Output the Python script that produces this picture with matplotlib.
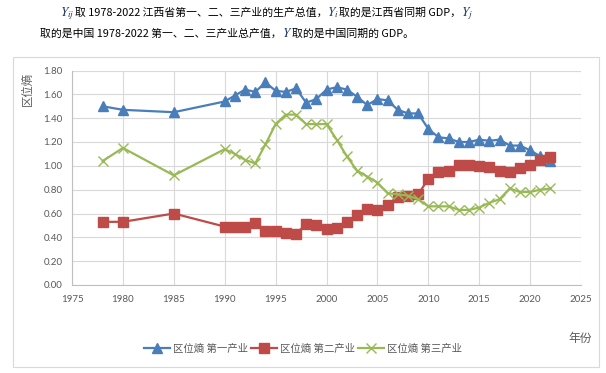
import numpy as np
import matplotlib
matplotlib.use("Agg")
import matplotlib.pyplot as plt

plt.rcParams['font.family'] = ['Noto Sans CJK SC', 'DejaVu Sans']
plt.rcParams['mathtext.fontset'] = 'stix'

# data
years = [1978, 1980, 1985] + list(range(1990, 2023))
primary = [1.50, 1.47, 1.45,
           1.54, 1.59, 1.64, 1.62, 1.70, 1.63, 1.62, 1.65, 1.53, 1.56,
           1.64, 1.66, 1.64, 1.58, 1.51, 1.56, 1.55, 1.47, 1.44, 1.44,
           1.31, 1.24, 1.23, 1.20, 1.20, 1.22, 1.21, 1.22, 1.17, 1.17,
           1.13, 1.08, 1.04]
secondary = [0.53, 0.53, 0.60,
             0.49, 0.49, 0.49, 0.52, 0.45, 0.45, 0.44, 0.43, 0.51, 0.50,
             0.47, 0.48, 0.53, 0.59, 0.64, 0.63, 0.675, 0.74, 0.75, 0.76,
             0.89, 0.95, 0.96, 1.01, 1.01, 1.00, 0.99, 0.96, 0.95, 0.98,
             1.01, 1.05, 1.07]
tertiary = [1.04, 1.15, 0.92,
            1.14, 1.10, 1.05, 1.02, 1.18, 1.35, 1.43, 1.43, 1.35, 1.35,
            1.35, 1.22, 1.08, 0.96, 0.91, 0.86, 0.77, 0.76, 0.75, 0.72,
            0.66, 0.66, 0.66, 0.63, 0.63, 0.65, 0.69, 0.72, 0.81, 0.78,
            0.78, 0.80, 0.81]
labels = ['区位熵 第一产业', '区位熵 第二产业', '区位熵 第三产业']

W, H = 606, 373
fig = plt.figure(figsize=(W / 100, H / 100), dpi=100)

# chart frame
fig.patches.append(plt.Rectangle((12.5 / W, 6 / H), 586.5 / W, 310 / H,
                                 transform=fig.transFigure, fill=False,
                                 edgecolor='#d9d9d9', linewidth=0.8))

ax = fig.add_axes([72 / W, 88 / H, 509 / W, 214.5 / H])
ax.plot(years, primary, color='#4a7ebb', lw=1.6, marker='^', ms=7.5,
        label=labels[0])
ax.plot(years, secondary, color='#be4b48', lw=1.6, marker='s', ms=6.5,
        label=labels[1])
ax.plot(years, tertiary, color='#98b954', lw=1.6, marker='x', ms=6.5,
        mew=1.0, label=labels[2])

ax.set_xlim(1975, 2025)
ax.set_ylim(0, 1.8)
ax.set_xticks(np.arange(1975, 2026, 5))
ax.set_yticks(np.arange(0, 1.81, 0.2))
ax.set_yticklabels(['%.2f' % v for v in np.arange(0, 1.81, 0.2)])
ax.grid(True, color='#d9d9d9', lw=0.8)
ax.set_axisbelow(True)
for s in ['top', 'right']:
    ax.spines[s].set_visible(False)
for s in ['left', 'bottom']:
    ax.spines[s].set_color('#bfbfbf')
    ax.spines[s].set_linewidth(0.8)
ax.tick_params(length=0, labelsize=7, labelcolor='#595959', pad=7)
for t in ax.get_xticklabels() + ax.get_yticklabels():
    t.set_family(['Lato', 'DejaVu Sans'])

fig.text(27 / W, 1 - 89 / H, '区位熵', rotation='vertical', ha='center',
         va='center', fontsize=8.2, color='#595959')
fig.text(580 / W, 1 - 338 / H, '年份', ha='center', va='center',
         fontsize=8.5, color='#595959')

fig.legend(loc='center', bbox_to_anchor=(303 / W, 1 - 349 / H),
           ncol=3, frameon=False, fontsize=7.5, labelcolor='#595959',
           handlelength=2.5, handletextpad=0.3, columnspacing=0.3)

# description text above the chart
navy = '#1f3864'


def write_line(pieces, x, y):
    last = None
    for s, c in pieces:
        size = 9.5 if s.startswith('$') else 7.8
        if last is None:
            last = fig.text(x / W, y / H, s, color=c, fontsize=size,
                            va='baseline', ha='left')
        else:
            last = ax.annotate(s, xy=(1, y), xycoords=(last, 'figure pixels'),
                               color=c, fontsize=size, va='baseline',
                               ha='left', annotation_clip=False)


write_line([('$Y_{ij}$', navy), ('取 1978-2022 江西省第一、二、三产业的生产总值，', 'black'),
            ('$Y_i$', navy), ('取的是江西省同期 GDP，', 'black'), ('$Y_j$', navy)],
           60, H - 16)
write_line([('取的是中国 1978-2022 第一、二、三产业总产值，', 'black'),
            ('$Y$', navy), ('取的是中国同期的 GDP。', 'black')],
           40, H - 37)

fig.savefig('out.png', dpi=100)
